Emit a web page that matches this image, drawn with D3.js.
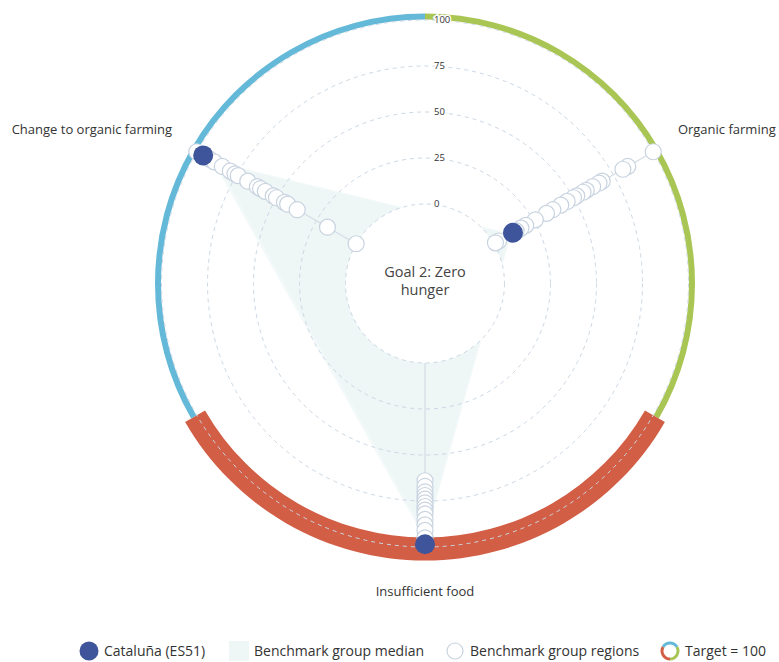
<!DOCTYPE html>
<html>
<head>
<meta charset="utf-8">
<script src="https://cdn.jsdelivr.net/npm/d3@7"></script>
<style>
  body { margin: 0; background: #fff; }
  text { font-family: "Open Sans", sans-serif; fill: #333; }
</style>
</head>
<body>
<div id="chart"></div>
<script>
// Data
//= ================================
var axes = ["Organic farming", "Insufficient food", "Change to organic farming"];
var axisAngles = [60, 180, 300];
var ticks = [0, 25, 50, 75, 100];

var regionName = "Cataluña (ES51)";
var regionValues = [12, 98.5, 96];
var medianValues = [11, 96, 90];

// benchmark regions, one list per axis
var organicFarming = [100, 84, 81, 68, 66, 62, 58, 56, 52, 50, 46, 42, 37, 33, 26, 20, 17, 14, 3, 1];
var insufficientFood = [64, 67, 70, 72, 74, 76, 78, 80, 82, 85, 88, 91, 95, 98];
var changeToOrganic = [100, 92, 89, 84, 79, 76, 74, 68, 62, 60, 57, 52, 50, 45, 43, 37, 18, 0];
var benchmark = [organicFarming, insufficientFood, changeToOrganic];

// Setup the chart
//= ================================
var svgWidth = 779;
var svgHeight = 662;
var cx = 425;
var cy = 283.5;

var colors = {
    region: "#3f559b",
    median: "#e9f4f4",
    ringLine: "#cbd7e3",
    "Organic farming": "#a9c655",
    "Insufficient food": "#d25e45",
    "Change to organic farming": "#64b9d8"
};

var svg = d3.select("#chart")
    .append("svg")
    .attr("width", svgWidth)
    .attr("height", svgHeight);

var chartGroup = svg.append("g")
    .attr("transform", `translate(${cx}, ${cy})`);

var rScale = d3.scaleLinear()
    .domain([0, 100])
    .range([79.5, 263.5]);

var rad = a => a * Math.PI / 180;
var px = (a, v) => rScale(v) * Math.sin(rad(a));
var py = (a, v) => -rScale(v) * Math.cos(rad(a));

// Target ring, one sector per axis (the thick one for the target-met axis)
var arc = d3.arc();
axes.forEach(function (name, i) {
    var a = axisAngles[i];
    var thick = regionValues[i] >= 98;
    chartGroup.append("path")
        .attr("d", arc({
            innerRadius: thick ? 254 : 264,
            outerRadius: thick ? 277 : 270,
            startAngle: rad(a - 60),
            endAngle: rad(a + 60)
        }))
        .attr("fill", colors[name]);
});

// Median polygon
var medianLine = d3.lineRadial()
    .angle((d, i) => rad(axisAngles[i]))
    .radius(d => rScale(d))
    .curve(d3.curveLinearClosed);

chartGroup.append("path")
    .attr("d", medianLine(medianValues))
    .attr("fill", colors.median)
    .attr("fill-opacity", 0.55);

chartGroup.append("path")
    .attr("d", medianLine(medianValues.map((v, i) => v - [1, 3, 3][i])))
    .attr("fill", colors.median)
    .attr("fill-opacity", 0.5);

// Inner hole
chartGroup.append("circle")
    .attr("r", rScale(0))
    .attr("fill", "#fff");

// Dashed grid rings
chartGroup.selectAll(".ring")
    .data(ticks)
    .enter()
    .append("circle")
    .attr("r", d => rScale(d))
    .attr("fill", "none")
    .attr("stroke", colors.ringLine)
    .attr("stroke-width", 1)
    .attr("stroke-dasharray", "4,4");

// Axis lines
chartGroup.selectAll(".axisLine")
    .data(axisAngles)
    .enter()
    .append("line")
    .attr("x1", d => px(d, 0))
    .attr("y1", d => py(d, 0))
    .attr("x2", d => px(d, 100))
    .attr("y2", d => py(d, 100))
    .attr("stroke", "#d5dde6")
    .attr("stroke-width", 1.2);

// Tick labels
chartGroup.selectAll(".tick")
    .data(ticks)
    .enter()
    .append("text")
    .attr("x", 9)
    .attr("y", d => -rScale(d))
    .attr("dy", "0.35em")
    .attr("font-size", "9.5px")
    .attr("stroke", "#fff")
    .attr("stroke-width", 3)
    .attr("paint-order", "stroke")
    .text(d => d);

// Benchmark regions
benchmark.forEach(function (vals, i) {
    chartGroup.selectAll(null)
        .data(vals)
        .enter()
        .append("circle")
        .attr("cx", d => px(axisAngles[i], d))
        .attr("cy", d => py(axisAngles[i], d))
        .attr("r", 8)
        .attr("fill", "#fff")
        .attr("stroke", "#c8d3e0")
        .attr("stroke-width", 1.2);
});

// Selected region
chartGroup.selectAll(null)
    .data(regionValues)
    .enter()
    .append("circle")
    .attr("cx", (d, i) => px(axisAngles[i], d))
    .attr("cy", (d, i) => py(axisAngles[i], d))
    .attr("r", 10)
    .attr("fill", colors.region);

// Axis labels
axes.forEach(function (name, i) {
    var a = rad(axisAngles[i]);
    var s = Math.sin(a);
    var c = Math.cos(a);
    chartGroup.append("text")
        .attr("x", 292 * s)
        .attr("y", -292 * c + 4.3 - 15.7 * c)
        .attr("text-anchor", Math.abs(s) < 0.1 ? "middle" : (s > 0 ? "start" : "end"))
        .attr("font-size", "13px")
        .text(name);
});

// Center title
chartGroup.append("text")
    .attr("text-anchor", "middle")
    .attr("y", -7)
    .attr("font-size", "14.5px")
    .style("fill", "#444")
    .text("Goal 2: Zero");
chartGroup.append("text")
    .attr("text-anchor", "middle")
    .attr("y", 11)
    .attr("font-size", "14.5px")
    .style("fill", "#444")
    .text("hunger");

// Legend
//= ================================
var legend = svg.append("g").attr("transform", "translate(0, 651)");

legend.append("circle").attr("cx", 89).attr("r", 9.5).attr("fill", colors.region);
legend.append("text").attr("x", 104).attr("dy", "0.35em").attr("font-size", "14px").text(regionName);

legend.append("rect").attr("x", 229).attr("y", -10).attr("width", 20).attr("height", 20)
    .attr("fill", "#eef6f6");
legend.append("text").attr("x", 254).attr("dy", "0.35em").attr("font-size", "14px").text("Benchmark group median");

legend.append("circle").attr("cx", 455).attr("r", 8).attr("fill", "#fff")
    .attr("stroke", "#c8d3e0").attr("stroke-width", 1.2);
legend.append("text").attr("x", 470).attr("dy", "0.35em").attr("font-size", "14px").text("Benchmark group regions");

var iconArc = d3.arc().innerRadius(6.5).outerRadius(9.5);
var iconGroup = legend.append("g").attr("transform", "translate(670, 0)");
[["Change to organic farming", -60, 60], ["Organic farming", 60, 180], ["Insufficient food", 180, 300]]
    .forEach(function (d) {
        iconGroup.append("path")
            .attr("d", iconArc({ startAngle: rad(d[1]), endAngle: rad(d[2]) }))
            .attr("fill", colors[d[0]]);
    });
legend.append("text").attr("x", 685).attr("dy", "0.35em").attr("font-size", "14px").text("Target = 100");
</script>
</body>
</html>
